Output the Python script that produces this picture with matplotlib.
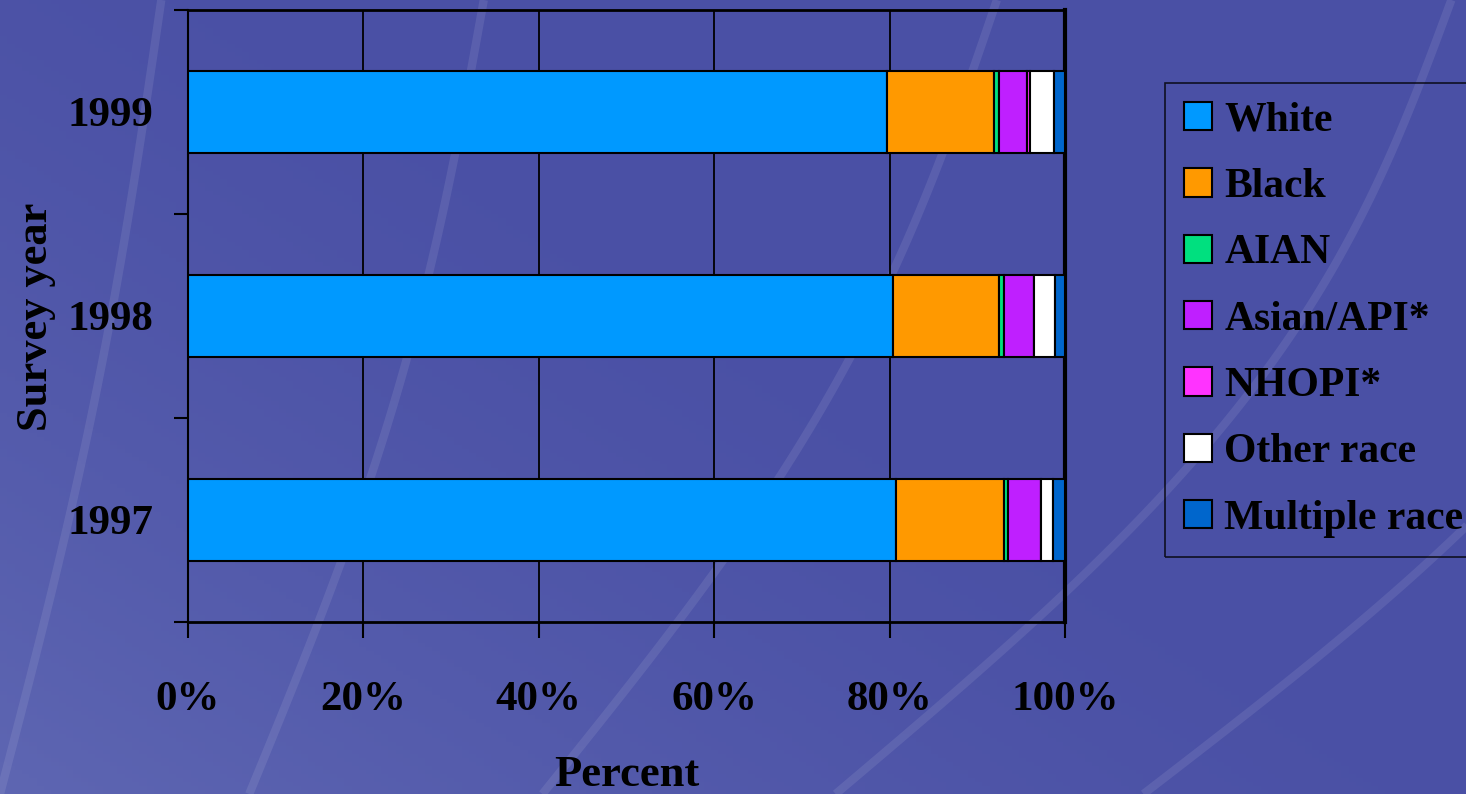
import numpy as np
import matplotlib
matplotlib.use("Agg")
import matplotlib.pyplot as plt
from matplotlib.patches import Patch

years = ["1997", "1998", "1999"]
categories = ["White", "Black", "AIAN", "Asian/API*", "NHOPI*", "Other race", "Multiple race"]
white = [80.7, 80.35, 79.7]
black = [12.3, 12.15, 12.2]
aian = [0.55, 0.6, 0.6]
asian = [3.7, 3.4, 3.2]
nhopi = [0.0, 0.0, 0.3]
other = [1.4, 2.4, 2.8]
multiple = [1.35, 1.1, 1.2]
series = [white, black, aian, asian, nhopi, other, multiple]
colors = ["#0099FF", "#FF9900", "#00E07F", "#BF1FFF", "#FF33FF", "#FFFFFF", "#0066CC"]
xticks = [0, 20, 40, 60, 80, 100]
xticklabels = ["0%", "20%", "40%", "60%", "80%", "100%"]

plt.rcParams['font.family'] = ['Liberation Serif', 'DejaVu Serif']
plt.rcParams['font.weight'] = 'bold'

fig = plt.figure(figsize=(14.66, 7.94), dpi=100)

# background gradient (lighter towards lower-left)
bg = fig.add_axes([0, 0, 1, 1], zorder=-10)
yy, xx = np.mgrid[0:1:200j, 0:1:200j]
t = np.clip((1 - xx) * 0.6 + (1 - yy) * 0.5 - 0.45, 0, 1) ** 1.5
c0 = np.array([74, 80, 165]) / 255.0
c1 = np.array([112, 122, 190]) / 255.0
img = c0[None, None, :] * (1 - t[..., None]) + c1[None, None, :] * t[..., None]
bg.imshow(img[::-1], extent=[0, 1, 0, 1], origin='upper', aspect='auto')
# faint decorative streaks
s = np.linspace(0, 1, 100)
for x0, x1, bend in [(0.0, 0.11, 0.01), (0.17, 0.33, 0.02), (0.37, 0.68, 0.04),
                     (0.57, 0.99, 0.07), (0.78, 1.2, 0.09)]:
    xs = x0 + (x1 - x0) * s + bend * np.sin(np.pi * s)
    bg.plot(xs, s, color='white', alpha=0.09, lw=6, solid_capstyle='butt')
bg.set_xlim(0, 1)
bg.set_ylim(0, 1)
bg.axis('off')

ax = fig.add_axes([188/1466, 172/794, 877/1466, 612/794])
ax.patch.set_alpha(0)
ypos = np.arange(len(years))
left = np.zeros(len(years))
for vals, col, name in zip(series, colors, categories):
    ax.barh(ypos, vals, left=left, height=0.40, color=col, edgecolor='black',
            linewidth=1.5, label=name, zorder=3)
    left = left + np.array(vals)

ax.set_xlim(0, 100)
ax.set_ylim(-0.5, 2.5)
ax.set_xticks(xticks)
ax.set_xticklabels(xticklabels)
ax.set_yticks(ypos)
ax.set_yticklabels(years)
ax.set_yticks([-0.5, 0.5, 1.5, 2.5], minor=True)
ax.tick_params(axis='y', which='major', length=0, pad=25, labelsize=31)
ax.tick_params(axis='y', which='minor', length=10, width=1.5, direction='out')
ax.tick_params(axis='x', length=11.5, width=1.5, pad=31, labelsize=31)
for lab in ax.get_xticklabels() + ax.get_yticklabels():
    lab.set_fontweight('bold')
ax.grid(axis='x', color='black', linewidth=1.3, zorder=1)
for sp in ax.spines.values():
    sp.set_color('black')
    sp.set_linewidth(1.5)
ax.spines['right'].set_linewidth(3)
ax.spines['top'].set_linewidth(2)
ax.spines['bottom'].set_linewidth(2)

ax.set_xlabel("Percent", fontsize=32, fontweight='bold')
ax.set_ylabel("Survey year", fontsize=32, fontweight='bold')
ax.xaxis.set_label_coords(0.5, -(775 - 622) / 612, transform=ax.transAxes)
ax.xaxis.label.set_va('center')
ax.yaxis.set_label_coords(-(188 - 36) / 877, (794 - 317 - 172) / 612)
ax.yaxis.label.set_va('center')

handles = [Patch(facecolor=c, edgecolor='black', linewidth=1.5) for c in colors]
leg = fig.legend(handles, categories, loc='upper left',
                 bbox_to_anchor=(1165/1466, 1 - 83/794), frameon=True,
                 prop={'family': 'Liberation Serif', 'weight': 'bold', 'size': 30},
                 handlelength=0.67, handleheight=0.67, handletextpad=0.3,
                 labelspacing=0.68, borderpad=0.45, borderaxespad=0)
leg.get_frame().set_facecolor('none')
leg.get_frame().set_edgecolor('black')
leg.get_frame().set_linewidth(1.2)
leg.get_frame().set_boxstyle('square', pad=0)

fig.savefig("out.png", dpi=100)
